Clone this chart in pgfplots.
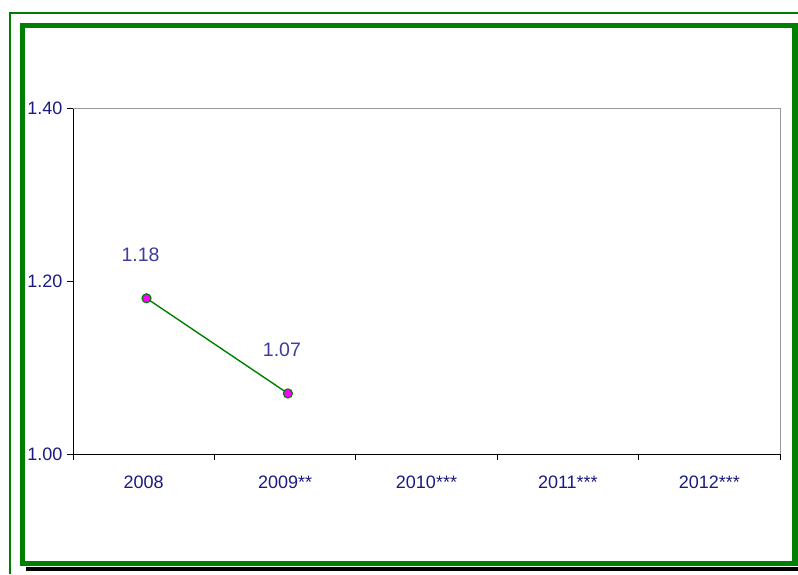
\documentclass[border=0pt]{standalone}
\usepackage{fontspec}
\setmainfont{Liberation Sans}
\usepackage{pgfplots}
\pgfplotsset{compat=1.18}
\definecolor{frameGreen}{HTML}{008000}
\definecolor{tickBlue}{HTML}{1A1A80}
\definecolor{labBlue}{HTML}{3C3C9C}
\definecolor{ptFill}{HTML}{FF00FF}

\begin{document}
\begin{tikzpicture}[x=1pt,y=1pt]
\useasboundingbox (0,0) rectangle (798,574);
% frame: thin outer line, thick inner box, shadow
\draw[frameGreen, line width=2.5] (10,0) -- (10,561) -- (798,561);
\draw[black, line width=4] (26,5) -- (798,5);
\draw[frameGreen, line width=5.5] (22.5,548.5) rectangle (795,10.5);

\begin{axis}[
  at={(73pt,120pt)}, anchor=south west,
  scale only axis, width=707pt, height=346pt,
  xmin=0, xmax=5, ymin=1, ymax=1.4,
  axis x line*=bottom, axis y line*=left,
  axis line style={black, line width=1pt},
  xtick={0.5,1.5,2.5,3.5,4.5},
  xticklabels={2008,2009**,2010***,2011***,2012***},
  minor xtick={0,1,2,3,4,5},
  major x tick style={draw=none},
  minor tick length=6pt,
  ytick={1,1.2,1.4},
  major tick length=6pt,
  tick align=outside,
  tick style={black, line width=1pt},
  yticklabel style={/pgf/number format/fixed, /pgf/number format/precision=2,
    /pgf/number format/fixed zerofill, xshift=-1pt},
  /pgf/number format/assume math mode=true,
  ticklabel style={font=\fontsize{18}{20}\selectfont, color=tickBlue},
  xticklabel style={anchor=base, yshift=-28pt},
  clip=false,
]
\draw[gray!80, line width=1pt] (rel axis cs:0,1) -- (rel axis cs:1,1) -- (rel axis cs:1,0);
\addplot[frameGreen, line width=1.4pt,
  mark=*, mark size=4.5pt,
  mark options={fill=ptFill, draw=frameGreen, line width=1.2pt},
  nodes near coords,
  point meta=explicit symbolic,
  every node near coord/.append style={anchor=base, yshift=37pt, xshift=-6pt,
    inner sep=0pt, font=\fontsize{19.5}{21}\selectfont, color=labBlue},
] coordinates {(0.52,1.18) [1.18] (1.52,1.07) [1.07]};
\end{axis}
\end{tikzpicture}
\end{document}
